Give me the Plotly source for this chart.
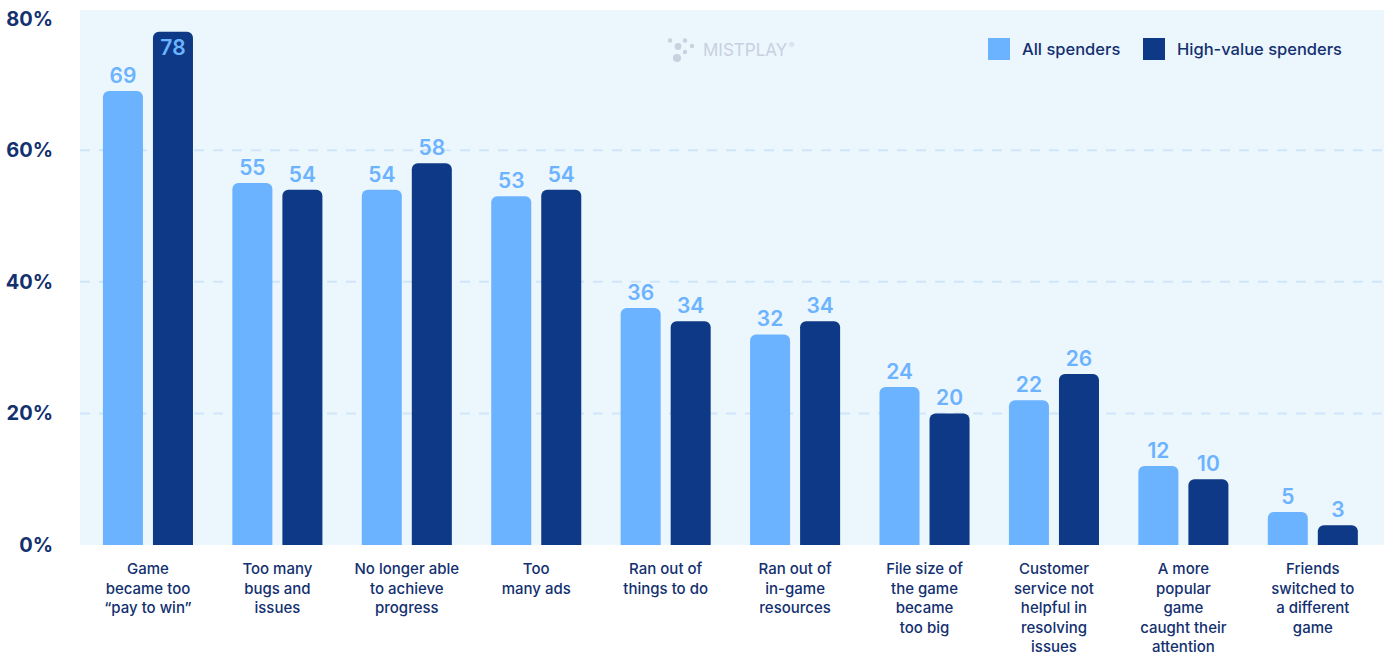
import plotly.graph_objects as go

# Reasons players stopped playing a game (% of respondents)
categories = [
    "Game<br>became too<br>\u201cpay to win\u201d",
    "Too many<br>bugs and<br>issues",
    "No longer able<br>to achieve<br>progress",
    "Too<br>many ads",
    "Ran out of<br>things to do",
    "Ran out of<br>in-game<br>resources",
    "File size of<br>the game<br>became<br>too big",
    "Customer<br>service not<br>helpful in<br>resolving<br>issues",
    "A more<br>popular<br>game<br>caught their<br>attention",
    "Friends<br>switched to<br>a different<br>game",
]
all_spenders = [69, 55, 54, 53, 36, 32, 24, 22, 12, 5]
high_value_spenders = [78, 54, 58, 54, 34, 34, 20, 26, 10, 3]
series_names = ["All spenders", "High-value spenders"]
y_ticks = [0, 20, 40, 60, 80]
y_tick_text = ["0%", "20%", "40%", "60%", "80%"]
grid_values = [20, 40, 60]

LIGHT = "#6cb3ff"
DARK = "#0e3987"
NAVY = "#13306f"
BG = "#ecf6fd"
FONT = "Inter, Roboto, sans-serif"

W, H = 1384, 657
M_L, M_R, M_T, M_B = 80, 0, 10, 112

# value labels sit above bars, except where a bar reaches the top of the axis
dark_pos = ["inside" if v > 75 else "outside" for v in high_value_spenders]
label_font = dict(color=LIGHT, size=21, family=FONT, weight=600)

fig = go.Figure()
fig.add_trace(go.Bar(
    name=series_names[0], x=categories, y=all_spenders,
    marker=dict(color=LIGHT, line=dict(width=0)),
    text=all_spenders, textposition="outside",
    textfont=label_font, cliponaxis=False,
))
fig.add_trace(go.Bar(
    name=series_names[1], x=categories, y=high_value_spenders,
    marker=dict(color=DARK, line=dict(width=0)),
    text=high_value_spenders, textposition=dark_pos,
    insidetextanchor="end",
    textfont=label_font, insidetextfont=label_font, outsidetextfont=label_font,
    cliponaxis=False,
))

for g in grid_values:
    fig.add_hline(y=g, line=dict(color="#cfe5fa", width=2, dash="10px,9px"), layer="below")


def px(x, y):
    """Pixel position in the page -> paper coordinates."""
    pw = W - M_L - M_R
    ph = H - M_T - M_B
    return (x - M_L) / pw, (H - M_B - y) / ph


def box(x0, y0, x1, y1, color, layer="above"):
    a, b = px(x0, y0)
    c, d = px(x1, y1)
    return dict(xref="paper", yref="paper", x0=a, x1=c, y0=d, y1=b,
                fillcolor=color, line=dict(width=0), layer=layer)


# watermark logo
logo_col = "#c7d1df"
for (cx, cy, r) in [(670, 40.5, 2.2), (685, 40.5, 2.2), (678, 46.5, 3.4),
                    (692, 46, 2.2), (685, 52, 2.2), (677, 58, 4)]:
    fig.add_shape(type="circle", **box(cx - r, cy - r, cx + r, cy + r, logo_col, "below"))
lx, ly = px(701, 50)
fig.add_annotation(xref="paper", yref="paper", x=lx, y=ly, xanchor="left", yanchor="middle",
                   text="MISTPLAY", showarrow=False,
                   font=dict(family=FONT, size=17, color=logo_col, weight=400))
rx, ry = px(787, 45)
fig.add_annotation(xref="paper", yref="paper", x=rx, y=ry, xanchor="left", yanchor="middle",
                   text="\u00ae", showarrow=False,
                   font=dict(family=FONT, size=8, color=logo_col))

# legend: large colour swatches with labels
for (sx, name, color) in [(988, series_names[0], LIGHT), (1143, series_names[1], DARK)]:
    fig.add_shape(type="rect", **box(sx, 38, sx + 22, 60, color))
    tx, ty = px(sx + 32, 49)
    fig.add_annotation(xref="paper", yref="paper", x=tx, y=ty, xanchor="left", yanchor="middle",
                       text=name, showarrow=False,
                       font=dict(family=FONT, size=16.5, color=NAVY, weight=500))

fig.update_layout(
    width=W, height=H,
    margin=dict(l=M_L, r=M_R, t=M_T, b=M_B, autoexpand=False),
    paper_bgcolor="white", plot_bgcolor=BG,
    barmode="group", bargap=0.227, bargroupgap=0.2,
    barcornerradius=6,
    font=dict(family=FONT, color=NAVY),
    showlegend=False,
    xaxis=dict(range=[-0.525, 9.55], showgrid=False, showline=False, ticks="",
               automargin=False,
               tickfont=dict(size=15, color=NAVY, family=FONT, weight=500),
               ticklabelstandoff=13),
    yaxis=dict(range=[0, 81.3], tickvals=y_ticks, ticktext=y_tick_text,
               showgrid=False, zeroline=False, showline=False, ticks="",
               automargin=False,
               tickfont=dict(size=20, color=NAVY, family=FONT, weight=700),
               ticklabelstandoff=26),
)

fig.write_html("out.html")
